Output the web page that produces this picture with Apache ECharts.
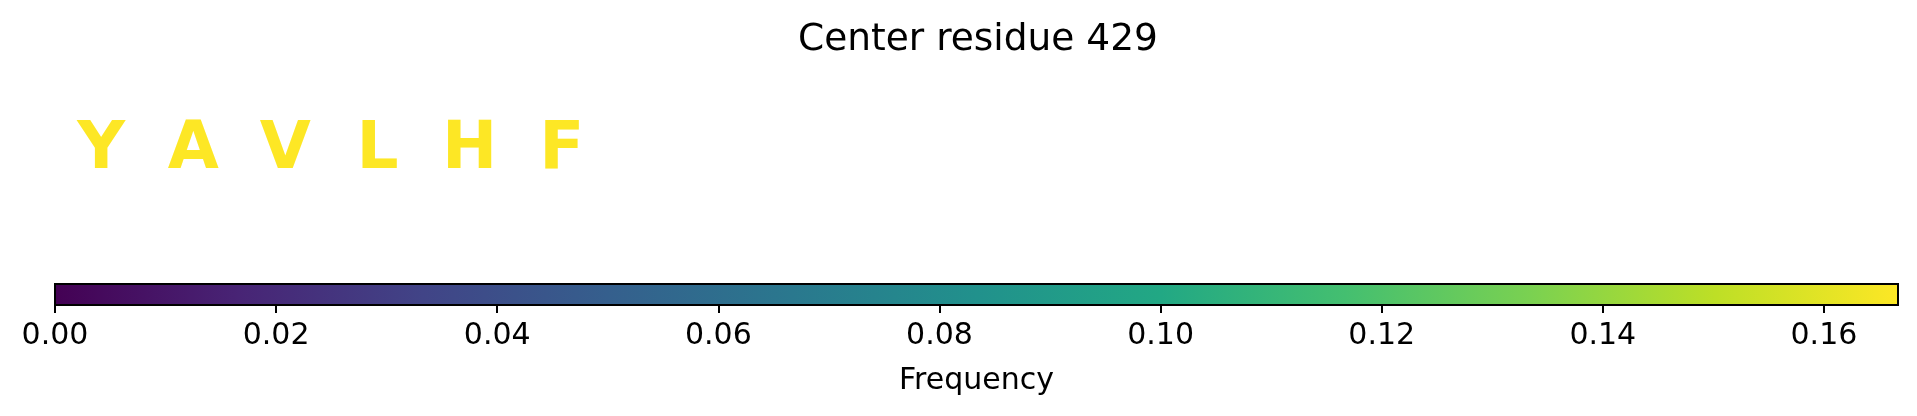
<!DOCTYPE html>
<html>
<head>
<meta charset="utf-8">
<script src="https://cdn.jsdelivr.net/npm/echarts@6/dist/echarts.min.js"></script>
<style>
html,body{margin:0;padding:0;background:#fff;}
#chart{width:1917px;height:416px;}
</style>
</head>
<body>
<div id="chart"></div>
<script>
// ---- data ----
const titleText = 'Center residue 429';
const residues = ['Y', 'A', 'V', 'L', 'H', 'F'];
const frequencies = [0.1667, 0.1667, 0.1667, 0.1667, 0.1667, 0.1667];
const colorbarMin = 0;
const colorbarMax = 0.1667;
const colorbarTickStep = 0.02;
const colorbarLabel = 'Frequency';
const viridis = ['#440154', '#482475', '#414487', '#355f8d', '#2a788e', '#21918c',
                 '#22a884', '#44bf70', '#7ad151', '#bddf26', '#fde725'];

const FONT = 'DejaVu Sans';
const chart = echarts.init(document.getElementById('chart'), null, {renderer: 'canvas'});

const letterData = residues.map((r, i) => [i, 0.5, frequencies[i], r]);

const option = {
  backgroundColor: '#ffffff',
  animation: false,
  title: {
    text: titleText,
    left: 793,
    top: 16,
    textStyle: {fontFamily: FONT, fontSize: 37.5, fontWeight: 'normal', color: '#000'}
  },
  visualMap: {
    show: false,
    type: 'continuous',
    seriesIndex: 0,
    dimension: 2,
    min: colorbarMin,
    max: colorbarMax,
    inRange: {color: viridis}
  },
  grid: [
    {left: 55, width: 1843, top: 108, height: 86},
    {left: 55, width: 1843, top: 284, height: 21}
  ],
  xAxis: [
    {gridIndex: 0, type: 'value', min: -0.5, max: 19.5, show: false},
    {
      gridIndex: 1, type: 'value', min: colorbarMin, max: colorbarMax,
      interval: colorbarTickStep,
      axisLine: {show: false},
      splitLine: {show: false},
      axisTick: {show: true, length: 8, lineStyle: {color: '#000', width: 2}},
      axisLabel: {
        fontFamily: FONT, fontSize: 30, color: '#000', margin: 16,
        showMaxLabel: false,
        formatter: v => v.toFixed(2)
      },
      name: colorbarLabel,
      nameLocation: 'middle',
      nameGap: 61,
      nameTextStyle: {fontFamily: FONT, fontSize: 30, color: '#000'}
    }
  ],
  yAxis: [
    {gridIndex: 0, type: 'value', min: 0, max: 1, show: false},
    {gridIndex: 1, type: 'value', min: 0, max: 1, show: false}
  ],
  series: [
    {
      type: 'custom',
      xAxisIndex: 0, yAxisIndex: 0,
      data: letterData,
      renderItem: function (params, api) {
        const p = api.coord([api.value(0), api.value(1)]);
        return {
          type: 'text',
          x: p[0], y: p[1],
          style: {
            text: residues[params.dataIndex],
            fill: api.visual('color'),
            font: 'bold 66px "DejaVu Sans"',
            align: 'center',
            verticalAlign: 'middle'
          }
        };
      }
    },
    {
      type: 'custom',
      xAxisIndex: 1, yAxisIndex: 1,
      data: [[colorbarMin, colorbarMax]],
      renderItem: function (params, api) {
        const a = api.coord([api.value(0), 1]);
        const b = api.coord([api.value(1), 0]);
        return {
          type: 'rect',
          shape: {x: a[0], y: a[1], width: b[0] - a[0], height: b[1] - a[1]},
          style: {
            fill: new echarts.graphic.LinearGradient(0, 0, 1, 0,
              viridis.map((c, i) => ({offset: i / (viridis.length - 1), color: c}))),
            stroke: '#000',
            lineWidth: 2
          }
        };
      }
    }
  ]
};
chart.setOption(option);
</script>
</body>
</html>
